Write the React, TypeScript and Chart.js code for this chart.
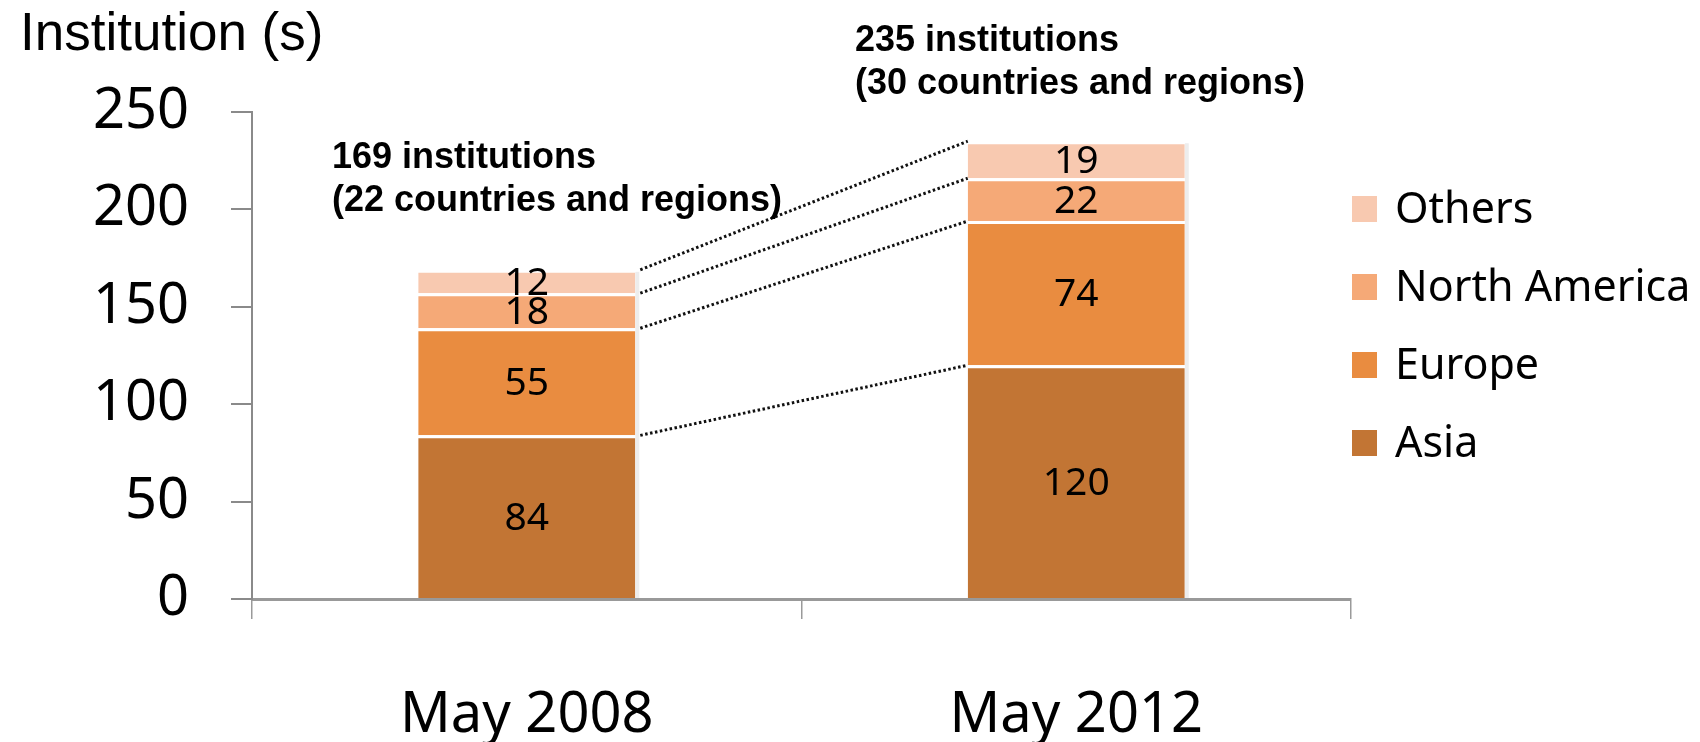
import React, { useEffect, useRef } from 'react';
import { Chart, registerables } from 'chart.js';

Chart.register(...registerables);

// ---- data ----
const categories = ['May 2008', 'May 2012'];
const asia = [84, 120];
const europe = [55, 74];
const northAmerica = [18, 22];
const others = [12, 19];
const countries = [22, 30];
const seriesNames = ['Asia', 'Europe', 'North America', 'Others'];
const seriesColors = ['#C27534', '#E98C40', '#F5A977', '#F8C9B0'];
const yMin = 0;
const yMax = 250;
const yStep = 50;
const yTitle = 'Institution (s)';

const FONT_UI = "'Noto Sans', 'Open Sans', sans-serif";
const FONT_ARIAL = "'Liberation Sans', Arial, sans-serif";

const overlayPlugin = {
  id: 'overlay',
  beforeDatasetsDraw(chart: any) {
    // faint shadow on the right edge of each bar stack
    const ctx = chart.ctx;
    const first = chart.getDatasetMeta(0);
    const last = chart.getDatasetMeta(chart.data.datasets.length - 1);
    ctx.save();
    ctx.fillStyle = 'rgba(0,0,0,0.07)';
    first.data.forEach((el: any, i: number) => {
      const topEl = last.data[i];
      if (!topEl) return;
      ctx.fillRect(el.x + el.width / 2, topEl.y + 2, 4, el.base - topEl.y - 2);
    });
    ctx.restore();
  },
  afterDatasetsDraw(chart: any) {
    const ctx = chart.ctx;
    const n = chart.data.datasets.length;
    // dotted connector lines between stacked tops
    ctx.save();
    ctx.strokeStyle = '#111';
    ctx.lineWidth = 3;
    ctx.setLineDash([2.5, 2.5]);
    for (let d = 0; d < n; d++) {
      const meta = chart.getDatasetMeta(d);
      const a = meta.data[0];
      const b = meta.data[1];
      if (!a || !b) continue;
      ctx.beginPath();
      ctx.moveTo(a.x + a.width / 2 + 5, a.y);
      ctx.lineTo(b.x - b.width / 2, b.y);
      ctx.stroke();
    }
    ctx.restore();

    // data labels
    ctx.save();
    ctx.fillStyle = '#000';
    ctx.font = `39px ${FONT_UI}`;
    ctx.textAlign = 'center';
    ctx.textBaseline = 'middle';
    for (let d = 0; d < n; d++) {
      const meta = chart.getDatasetMeta(d);
      const vals = chart.data.datasets[d].data;
      meta.data.forEach((el: any, i: number) => {
        ctx.fillText(String(vals[i]), el.x, (el.y + el.base) / 2 + 2);
      });
    }
    ctx.restore();
  },
  afterDraw(chart: any) {
    const ctx = chart.ctx;
    ctx.save();
    // axis title
    ctx.fillStyle = '#000';
    ctx.textAlign = 'left';
    ctx.textBaseline = 'alphabetic';
    ctx.font = `53px ${FONT_ARIAL}`;
    ctx.fillText(yTitle, 20, 50);

    // totals annotations
    const totals = categories.map((_, i) => asia[i] + europe[i] + northAmerica[i] + others[i]);
    ctx.font = `bold 36px ${FONT_ARIAL}`;
    const annPos = [
      { x: 332, y: 168 },
      { x: 855, y: 51 },
    ];
    totals.forEach((t, i) => {
      const p = annPos[i];
      ctx.fillText(`${t} institutions`, p.x, p.y);
      ctx.fillText(`(${countries[i]} countries and regions)`, p.x, p.y + 43);
    });

    // legend (reverse order, Others on top)
    const ds = chart.data.datasets;
    ctx.font = `43px ${FONT_UI}`;
    ctx.textBaseline = 'middle';
    const lx = 1352;
    const top = 209;
    const gap = 78;
    for (let k = 0; k < ds.length; k++) {
      const d = ds[ds.length - 1 - k];
      const cy = top + k * gap;
      ctx.fillStyle = d.backgroundColor;
      ctx.fillRect(lx, cy - 13, 25, 26);
      ctx.fillStyle = '#000';
      ctx.fillText(d.label, lx + 43, cy + 2);
    }
    ctx.restore();
  },
};

export default function App() {
  const ref = useRef<HTMLCanvasElement | null>(null);
  useEffect(() => {
    if (!ref.current) return;
    const seriesData = [asia, europe, northAmerica, others];
    const chart = new Chart(ref.current, {
      type: 'bar',
      data: {
        labels: categories,
        datasets: seriesNames.map((name, i) => ({
          label: name,
          data: seriesData[i],
          backgroundColor: seriesColors[i],
          borderColor: '#FFFFFF',
          borderWidth: { top: 3, left: 0, right: 0, bottom: 0 },
          borderSkipped: false,
          barPercentage: 0.395,
          categoryPercentage: 1,
        })),
      },
      options: {
        responsive: false,
        animation: false,
        layout: { padding: { left: 0, right: 349, top: 112, bottom: 0 } },
        plugins: {
          legend: { display: false },
          tooltip: { enabled: false },
          title: { display: false },
        },
        scales: {
          x: {
            stacked: true,
            afterFit: (s: any) => {
              s.height = 143;
            },
            grid: {
              display: true,
              drawOnChartArea: false,
              drawTicks: true,
              offset: true,
              tickLength: 20,
              color: '#9a9a9a',
              lineWidth: 1.5,
            },
            border: { display: true, color: '#999999', width: 3 },
            ticks: {
              color: '#000',
              font: { family: FONT_UI, size: 56 },
              padding: 63,
              maxRotation: 0,
            },
          },
          y: {
            stacked: true,
            min: yMin,
            max: yMax,
            afterFit: (s: any) => {
              s.width = 252;
            },
            grid: {
              display: true,
              drawOnChartArea: false,
              drawTicks: true,
              tickLength: 21,
              color: '#8a8a8a',
              lineWidth: 2,
            },
            border: { display: true, color: '#8a8a8a', width: 2 },
            ticks: {
              stepSize: yStep,
              color: '#000',
              font: { family: FONT_UI, size: 56 },
              padding: 42,
            },
          },
        },
      },
      plugins: [overlayPlugin],
    });
    return () => chart.destroy();
  }, []);

  return (
    <div style={{ position: 'absolute', left: 0, top: 0, width: 1700, height: 742, background: '#fff' }}>
      <canvas ref={ref} width={1700} height={742} style={{ width: 1700, height: 742 }} />
    </div>
  );
}
